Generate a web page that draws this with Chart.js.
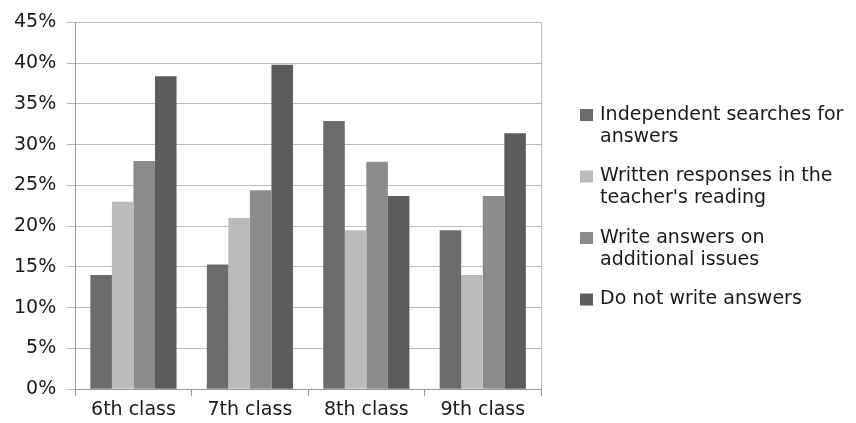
<!DOCTYPE html>
<html>
<head>
<meta charset="utf-8">
<script src="https://cdn.jsdelivr.net/npm/chart.js@4"></script>
<style>
  html, body { margin: 0; padding: 0; background: #fff; }
  #wrap { width: 856px; height: 423px; }
</style>
</head>
<body>
<div id="wrap"><canvas id="chart" width="856" height="423"></canvas></div>
<script>
const categories = ["6th class", "7th class", "8th class", "9th class"];

const independentSearches = [14.0, 15.3, 32.9, 19.5];
const writtenResponses = [23.0, 21.0, 19.5, 14.0];
const additionalIssues = [28.0, 24.4, 27.9, 23.7];
const doNotWrite = [38.4, 39.8, 23.7, 31.4];

const seriesNames = [
  ["Independent searches for", "answers"],
  ["Written responses in the", "teacher's reading"],
  ["Write answers on", "additional issues"],
  ["Do not write answers"]
];
const seriesColors = ["#6b6b6b", "#bbbbbb", "#8b8b8b", "#5b5b5b"];

const yTicks = [0, 5, 10, 15, 20, 25, 30, 35, 40, 45];

const FONT = "'DejaVu Sans', sans-serif";
const gridGray = "#bdbdbd";

// legend drawn by hand, the entries wrap onto two lines
const sideLegend = {
  id: "sideLegend",
  afterDraw(chart) {
    const ctx = chart.ctx;
    const x = 580;
    let y = 115;
    ctx.save();
    ctx.font = "19px " + FONT;
    ctx.textBaseline = "middle";
    seriesNames.forEach((lines, i) => {
      ctx.fillStyle = seriesColors[i];
      ctx.fillRect(x, y - 6, 13, 12);
      ctx.fillStyle = "#1a1a1a";
      lines.forEach((line, j) => {
        ctx.fillText(line, x + 20, y + j * 22);
      });
      y += 61.5;
    });
    ctx.restore();
  }
};

const seriesData = [independentSearches, writtenResponses, additionalIssues, doNotWrite];

new Chart(document.getElementById("chart"), {
  type: "bar",
  data: {
    labels: categories,
    datasets: seriesData.map((values, i) => ({
      label: seriesNames[i].join(" "),
      data: values,
      backgroundColor: seriesColors[i],
      borderWidth: 0,
      categoryPercentage: 0.74,
      barPercentage: 1.0
    }))
  },
  options: {
    responsive: false,
    animation: false,
    layout: { padding: { left: 3, right: 315, top: 6, bottom: 0 } },
    plugins: {
      legend: { display: false },
      tooltip: { enabled: false }
    },
    scales: {
      x: {
        grid: {
          offset: true,
          color: c => (c.index === undefined ? gridGray : "transparent"),
          tickColor: "#999",
          tickLength: 7,
          lineWidth: 1
        },
        border: { color: "#999" },
        ticks: {
          color: "#1a1a1a",
          font: { family: FONT, size: 19 },
          padding: 2
        }
      },
      y: {
        min: 0,
        max: 45,
        afterBuildTicks: axis => {
          axis.ticks = yTicks.map(v => ({ value: v }));
        },
        grid: {
          color: gridGray,
          tickColor: gridGray,
          tickLength: 8,
          lineWidth: 1
        },
        border: { color: "#999" },
        ticks: {
          color: "#1a1a1a",
          font: { family: FONT, size: 19 },
          padding: 11,
          callback: v => v + "%"
        }
      }
    }
  },
  plugins: [sideLegend]
});
</script>
</body>
</html>
